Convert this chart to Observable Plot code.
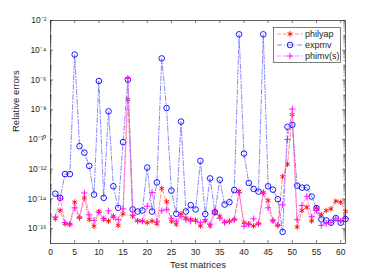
<!DOCTYPE html>
<html><head><meta charset="utf-8">
<script src="https://cdn.jsdelivr.net/npm/d3@7"></script>
<script src="https://cdn.jsdelivr.net/npm/@observablehq/plot@0.6"></script>
<style>
body{margin:0;background:#fff;}
#chart{position:relative;width:382px;height:273px;font-family:"Liberation Sans",Arial,sans-serif;}
#legend{position:absolute;left:0;top:0;pointer-events:none;}
</style></head><body><div id="chart"></div>
<script>
// Test matrix indices
const testMatrices = d3.range(1, 62);
// log10 of relative errors
const philyapExp = [-15.33,-14.77,-15.66,-15.71,-14.22,-15.26,-13.94,-15.38,-15.84,-14.85,
 -15.38,-15.49,-15.16,-15.79,-15.0,-7.31,-15.16,-15.47,-15.49,-15.6,
 -15.49,-15.67,-13.29,-14.18,-15.51,-15.71,-15.0,-15.29,-15.38,-15.44,
 -15.82,-15.47,-15.82,-14.93,-15.16,-15.55,-15.51,-15.38,-13.49,-15.6,
 -15.69,-15.82,-15.67,-13.56,-14.11,-15.47,-15.78,-12.5,-11.67,-8.33,
 -15.89,-14.78,-14.56,-15.49,-14.6,-15.07,-14.78,-14.67,-14.15,-14.22,-14.85];
const expmvExp = [-13.65,-13.93,-12.33,-12.33,-4.29,-10.45,-10.89,-11.78,-13.71,-6.07,
 -13.93,-8.11,-13.15,-14.6,-10.18,-5.98,-14.71,-14.85,-14.78,-11.89,
 -14.85,-12.89,-4.55,-7.89,-13.44,-15.0,-8.8,-14.85,-14.42,-14.71,
 -11.44,-15.02,-12.62,-14.89,-12.71,-14.38,-14.22,-13.4,-2.93,-10.95,
 -12.93,-13.33,-13.51,-2.93,-13.15,-13.38,-14.02,-16.22,-9.15,-9.02,
 -13.11,-13.24,-13.24,-13.84,-14.62,-15.38,-15.44,-15.6,-15.29,-15.6,-15.36];
const phimvExp = [-15.22,-13.95,-15.6,-15.7,-14.6,-15.27,-13.6,-15.07,-15.44,-14.89,
 -15.33,-14.8,-15.22,-15.4,-14.67,-5.9,-15.1,-15.5,-15.5,-14.5,
 -13.56,-15.5,-14.8,-14.7,-15.3,-15.5,-15.2,-15.4,-15.5,-15.5,
 -15.6,-15.4,-15.7,-14.8,-15.3,-15.6,-15.5,-15.4,-13.6,-15.84,
 -15.7,-15.33,-15.67,-13.6,-14.6,-15.44,-15.78,-14.4,-10.0,-7.95,
 -15.4,-14.44,-13.82,-15.2,-14.78,-15.78,-15.67,-15.6,-15.29,-15.5,-15.3];

const seriesNames = ["philyap", "expmv", "phimv(s)"];
const seriesColors = ["#ff0000", "#0000ff", "#ff00ff"];
const seriesLineColors = ["#ff6060", "#5555ff", "#ff55ff"];
const seriesSymbols = ["asterisk", "circle", "plus"];
const seriesSizes = [2.6, 2.8, 2.2];
const seriesDash = ["4,2", "5,2,1,2", "4,2"];

const xTicks = [0,5,10,15,20,25,30,35,40,45,50,55,60];
const yTicks = [1e-16,1e-14,1e-12,1e-10,1e-8,1e-6,1e-4,1e-2];
const yTickLabels = ["10\u207B\u00B9\u2076","10\u207B\u00B9\u2074","10\u207B\u00B9\u00B2","10\u207B\u00B9\u2070","10\u207B\u2078","10\u207B\u2076","10\u207B\u2074","10\u207B\u00B2"];

const W = 382, H = 273, mL = 50, mR = 37, mT = 20, mB = 30;
const iw = W - mL - mR, ih = H - mT - mB;
const axisColor = "#262626";

const allExp = [philyapExp, expmvExp, phimvExp];
const data = allExp.map((arr, k) => testMatrices.map((m, i) => ({m, v: Math.pow(10, arr[i]), s: seriesNames[k]})));

// minor log ticks
const yMinor = [];
for (let e = -17; e < -2; e++) for (let j = 1; j < 10; j++) {
  const v = j * Math.pow(10, e);
  if (j === 1 && e % 2 === 0) continue;
  yMinor.push(v);
}

const seriesMarks = [];
data.forEach((rows, k) => {
  seriesMarks.push(Plot.line(rows, {x: "m", y: "v", stroke: seriesLineColors[k], strokeWidth: 0.7, strokeDasharray: seriesDash[k]}));
  seriesMarks.push(Plot.dot(rows, {x: "m", y: "v", symbol: seriesSymbols[k], stroke: seriesColors[k], fill: "none", strokeWidth: 0.9, r: seriesSizes[k]}));
});

const chart = Plot.plot({
  width: W, height: H,
  marginLeft: mL, marginRight: mR, marginTop: mT, marginBottom: mB,
  style: {fontFamily: "Liberation Sans, Arial, sans-serif", fontSize: "8.5px", color: axisColor, background: "white", overflow: "visible"},
  x: {domain: [0, 61]},
  y: {type: "log", domain: [1e-17, 1e-2]},
  marks: [
    Plot.axisX({ticks: xTicks, tickSize: 0, tickPadding: 5, label: null, tickFormat: d => String(d)}),
    Plot.axisY({ticks: yTicks, tickSize: 0, tickPadding: 4, label: null, tickFormat: d => yTickLabels[yTicks.indexOf(d)]}),
    Plot.tickX(xTicks, {x: d => d, stroke: axisColor, strokeWidth: 0.6, insetTop: ih - 3}),
    Plot.tickX(xTicks, {x: d => d, stroke: axisColor, strokeWidth: 0.6, insetBottom: ih - 3}),
    Plot.tickY(yTicks, {y: d => d, stroke: axisColor, strokeWidth: 0.6, insetRight: iw - 3}),
    Plot.tickY(yTicks, {y: d => d, stroke: axisColor, strokeWidth: 0.6, insetLeft: iw - 3}),
    Plot.tickY(yMinor, {y: d => d, stroke: axisColor, strokeWidth: 0.5, insetRight: iw - 1.6}),
    Plot.tickY(yMinor, {y: d => d, stroke: axisColor, strokeWidth: 0.5, insetLeft: iw - 1.6}),
    ...seriesMarks,
    Plot.frame({stroke: axisColor, strokeWidth: 0.7}),
    Plot.text(["Test matrices"], {frameAnchor: "bottom", dy: 24, fontSize: 9.5, fill: axisColor}),
    Plot.text(["Relative errors"], {frameAnchor: "left", dx: -35, rotate: -90, fontSize: 9.5, fill: axisColor})
  ]
});
document.getElementById("chart").appendChild(chart);

// Legend
const lg = d3.select("#chart").append("svg").attr("id", "legend").attr("width", W).attr("height", H);
const lx = 273, ly = 27, lw = 67, lh = 35;
lg.append("rect").attr("x", lx + 0.5).attr("y", ly + 0.5).attr("width", lw).attr("height", lh)
  .attr("fill", "white").attr("stroke", axisColor).attr("stroke-width", 0.6);
const symMap = {asterisk: d3.symbolAsterisk, circle: d3.symbolCircle, plus: d3.symbolPlus};
seriesNames.forEach((name, k) => {
  const cy = ly + 7 + k * 11;
  lg.append("line").attr("x1", lx + 4).attr("x2", lx + 30).attr("y1", cy).attr("y2", cy)
    .attr("stroke", seriesLineColors[k]).attr("stroke-width", 0.7).attr("stroke-dasharray", seriesDash[k]);
  const r = seriesSizes[k];
  lg.append("path").attr("d", d3.symbol(symMap[seriesSymbols[k]], Math.PI * r * r)())
    .attr("transform", `translate(${lx + 17},${cy})`)
    .attr("fill", "none").attr("stroke", seriesColors[k]).attr("stroke-width", 0.9);
  lg.append("text").attr("x", lx + 32).attr("y", cy).attr("dy", "0.35em")
    .attr("font-size", 9).attr("fill", axisColor).attr("font-family", "Liberation Sans, Arial, sans-serif").text(name);
});
</script>
</body></html>
